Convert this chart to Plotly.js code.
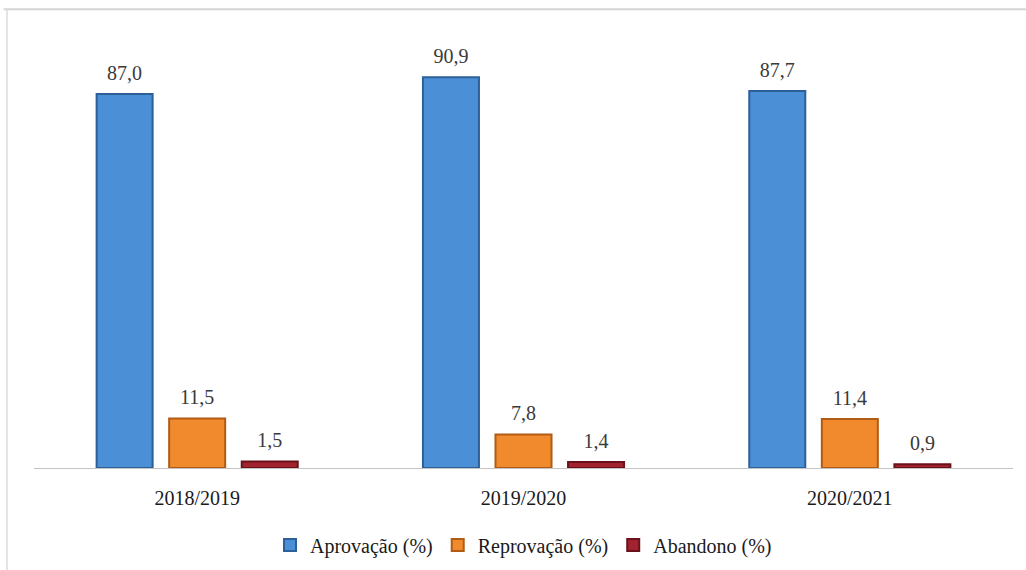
<!DOCTYPE html>
<html>
<head>
<meta charset="utf-8">
<script src="https://cdn.plot.ly/plotly-3.0.1.min.js"></script>
<style>html,body{margin:0;padding:0;background:#fff;}#chart{width:1026px;height:570px;}</style>
</head>
<body>
<div id="chart"></div>
<script>
var categories = ["2018/2019", "2019/2020", "2020/2021"];
var aprovacao = [87.0, 90.9, 87.7];
var reprovacao = [11.5, 7.8, 11.4];
var abandono = [1.5, 1.4, 0.9];
var seriesNames = ["Aprovação (%)", "Reprovação (%)", "Abandono (%)"];

var fontFam = 'Liberation Serif, Times New Roman, serif';
function bar(name, vals, fill, edge) {
  return {
    type: 'bar', name: name, x: categories, y: vals,
    marker: {color: fill, line: {color: edge, width: 2}},
    texttemplate: '<span style="font-size:20px">%{y:.1f}</span><br> ', textposition: 'outside', cliponaxis: false,
    textfont: {family: fontFam, size: 7, color: '#3a3a3a'},
    hoverinfo: 'skip'
  };
}
var data = [
  bar(seriesNames[0], aprovacao, '#4b8fd7', '#2d5f99'),
  bar(seriesNames[1], reprovacao, '#f08a2c', '#b25b14'),
  bar(seriesNames[2], abandono, '#a2232f', '#6a121b')
];
var layout = {
  width: 1026, height: 570,
  margin: {l: 34, r: 13, t: 38, b: 102},
  paper_bgcolor: '#ffffff', plot_bgcolor: '#ffffff',
  separators: ',.',
  barmode: 'group', bargap: 0.333, bargroupgap: 0.228,
  font: {family: fontFam, size: 20, color: '#1a1a1a'},
  showlegend: true,
  legend: {orientation: 'h', x: 0.5, xanchor: 'center', yref: 'container', y: 0.044, yanchor: 'middle',
           font: {family: fontFam, size: 20, color: '#1a1a1a'}, itemwidth: 30},
  xaxis: {type: 'category', showgrid: false, zeroline: false, showline: true, automargin: false,
          linecolor: '#c4c4c4', linewidth: 1, ticks: 'outside', ticklen: 12,
          tickcolor: 'rgba(0,0,0,0)', tickfont: {family: fontFam, size: 20, color: '#1a1a1a'}},
  yaxis: {range: [0, 100], visible: false, showgrid: false, zeroline: false, fixedrange: true, automargin: false},
  shapes: [
    {type: 'line', xref: 'paper', yref: 'paper', x0: -0.031, x1: 1.03, y0: 1.067, y1: 1.067,
     line: {color: '#d6d6d6', width: 2}},
    {type: 'line', xref: 'paper', yref: 'paper', x0: -0.0276, x1: -0.0276, y0: 1.067, y1: -0.25,
     line: {color: '#dcdcdc', width: 1.5}}
  ]
};
Plotly.newPlot('chart', data, layout, {displayModeBar: false, staticPlot: true});
</script>
</body>
</html>
